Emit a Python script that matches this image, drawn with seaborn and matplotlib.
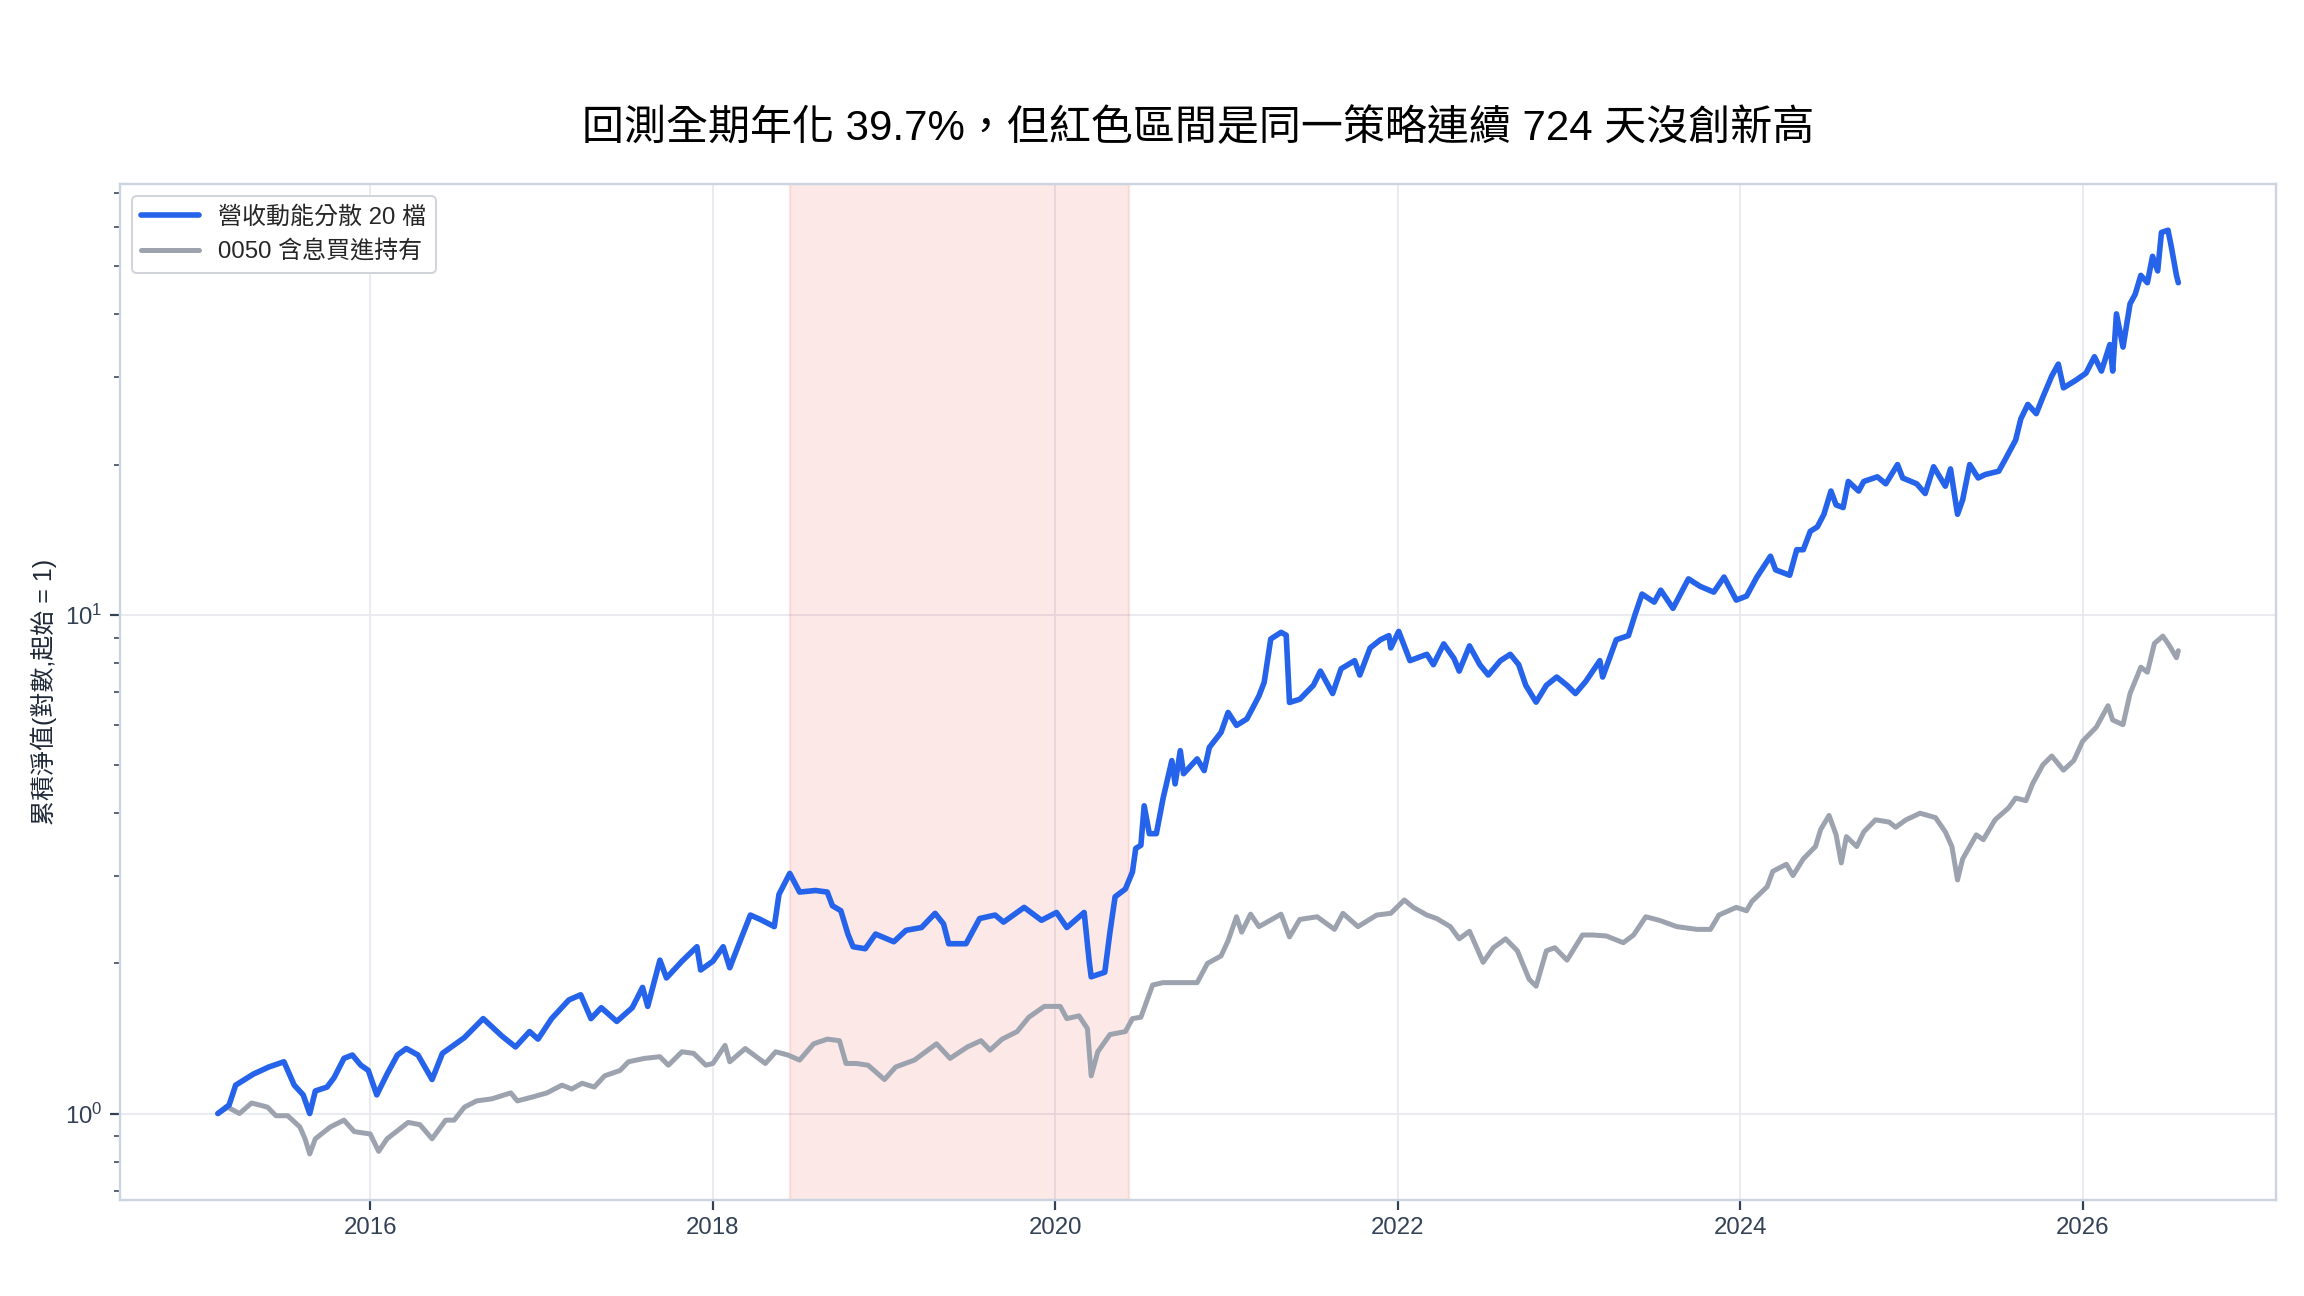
import matplotlib
matplotlib.use("Agg")
import matplotlib.pyplot as plt
import matplotlib.dates as mdates
import pandas as pd
import seaborn as sns

TITLE = "回測全期年化 39.7%，但紅色區間是同一策略連續 724 天沒創新高"
Y_LABEL = "累積淨值(對數,起始 = 1)"
STRATEGY_LABEL = "營收動能分散 20 檔"
BENCH_LABEL = "0050 含息買進持有"

# underwater stretch (longest drawdown of the strategy)
DD_START = "2018-06-14"
DD_END = "2020-06-07"

# strategy equity curve
strategy_dates = [
    "2015-02-10", "2015-03-06", "2015-03-20", "2015-04-27", "2015-05-30", "2015-07-01",
    "2015-07-23", "2015-08-11", "2015-08-25", "2015-09-06", "2015-10-01", "2015-10-16",
    "2015-11-06", "2015-11-24", "2015-12-12", "2015-12-28", "2016-01-15", "2016-02-06",
    "2016-02-28", "2016-03-18", "2016-04-12", "2016-05-12", "2016-06-03", "2016-07-20",
    "2016-08-29", "2016-10-08", "2016-11-06", "2016-12-06", "2016-12-24", "2017-01-22",
    "2017-02-28", "2017-03-25", "2017-04-16", "2017-05-08", "2017-06-10", "2017-07-13",
    "2017-08-04", "2017-08-15", "2017-09-10", "2017-09-24", "2017-10-27", "2017-11-28",
    "2017-12-06", "2018-01-01", "2018-01-23", "2018-02-06", "2018-02-25", "2018-03-22",
    "2018-04-12", "2018-05-12", "2018-05-22", "2018-06-14", "2018-07-05", "2018-08-08",
    "2018-09-02", "2018-09-13", "2018-10-01", "2018-10-16", "2018-10-27", "2018-11-22",
    "2018-12-14", "2019-01-22", "2019-02-17", "2019-03-22", "2019-04-20", "2019-05-08",
    "2019-05-19", "2019-06-25", "2019-07-24", "2019-08-26", "2019-09-13", "2019-10-27",
    "2019-12-03", "2020-01-04", "2020-01-26", "2020-03-03", "2020-03-14", "2020-03-18",
    "2020-04-16", "2020-04-27", "2020-05-08", "2020-05-30", "2020-06-14", "2020-06-21",
    "2020-07-02", "2020-07-09", "2020-07-20", "2020-08-04", "2020-08-18", "2020-09-06",
    "2020-09-13", "2020-09-24", "2020-10-01", "2020-10-30", "2020-11-14", "2020-11-25",
    "2020-12-20", "2021-01-04", "2021-01-22", "2021-02-13", "2021-02-28", "2021-03-11",
    "2021-03-22", "2021-04-05", "2021-04-27", "2021-05-08", "2021-05-15", "2021-06-06",
    "2021-07-05", "2021-07-20", "2021-08-15", "2021-09-02", "2021-10-01", "2021-10-12",
    "2021-11-03", "2021-11-25", "2021-12-13", "2021-12-17", "2022-01-03", "2022-01-27",
    "2022-03-04", "2022-03-18", "2022-04-09", "2022-05-01", "2022-05-12", "2022-06-03",
    "2022-06-25", "2022-07-13", "2022-08-08", "2022-08-29", "2022-09-16", "2022-10-01",
    "2022-10-23", "2022-11-14", "2022-12-06", "2022-12-28", "2023-01-15", "2023-02-06",
    "2023-03-08", "2023-03-14", "2023-04-12", "2023-05-08", "2023-05-22", "2023-06-06",
    "2023-07-02", "2023-07-16", "2023-08-11", "2023-09-13", "2023-10-08", "2023-11-06",
    "2023-11-28", "2023-12-24", "2024-01-15", "2024-02-06", "2024-03-06", "2024-03-17",
    "2024-04-16", "2024-05-01", "2024-05-15", "2024-05-30", "2024-06-14", "2024-06-28",
    "2024-07-13", "2024-07-24", "2024-08-08", "2024-08-19", "2024-09-10", "2024-09-21",
    "2024-10-20", "2024-11-07", "2024-12-02", "2024-12-13", "2025-01-12", "2025-01-30",
    "2025-02-17", "2025-03-14", "2025-03-25", "2025-04-09", "2025-04-20", "2025-05-05",
    "2025-05-23", "2025-06-07", "2025-07-06", "2025-07-20", "2025-08-11", "2025-08-22",
    "2025-09-06", "2025-09-24", "2025-10-08", "2025-10-27", "2025-11-10", "2025-11-21",
    "2025-12-17", "2026-01-08", "2026-01-26", "2026-02-10", "2026-02-28", "2026-03-06",
    "2026-03-14", "2026-03-28", "2026-04-12", "2026-04-23", "2026-05-05", "2026-05-19",
    "2026-05-30", "2026-06-10", "2026-06-18", "2026-07-02", "2026-07-09", "2026-07-20",
    "2026-07-24",
]
strategy_nav = [
    1.00, 1.04, 1.14, 1.20, 1.24, 1.27,
    1.14, 1.09, 1.00, 1.11, 1.13, 1.18,
    1.29, 1.31, 1.25, 1.22, 1.09, 1.20,
    1.31, 1.35, 1.31, 1.17, 1.32, 1.42,
    1.55, 1.43, 1.36, 1.46, 1.41, 1.55,
    1.69, 1.73, 1.55, 1.63, 1.53, 1.63,
    1.79, 1.64, 2.03, 1.87, 2.02, 2.16,
    1.94, 2.02, 2.16, 1.96, 2.18, 2.50,
    2.45, 2.37, 2.75, 3.03, 2.78, 2.80,
    2.78, 2.61, 2.55, 2.29, 2.16, 2.14,
    2.29, 2.21, 2.33, 2.36, 2.52, 2.40,
    2.19, 2.19, 2.46, 2.50, 2.42, 2.59,
    2.44, 2.53, 2.36, 2.53, 2.01, 1.88,
    1.92, 2.31, 2.72, 2.82, 3.05, 3.40,
    3.45, 4.14, 3.64, 3.64, 4.27, 5.10,
    4.58, 5.34, 4.80, 5.14, 4.87, 5.42,
    5.81, 6.37, 6.00, 6.18, 6.57, 6.88,
    7.32, 8.94, 9.22, 9.10, 6.67, 6.77,
    7.22, 7.71, 6.95, 7.79, 8.09, 7.57,
    8.58, 8.91, 9.08, 8.58, 9.26, 8.09,
    8.33, 7.94, 8.74, 8.17, 7.71, 8.66,
    7.94, 7.57, 8.09, 8.33, 7.94, 7.22,
    6.68, 7.22, 7.50, 7.22, 6.95, 7.35,
    8.09, 7.50, 8.91, 9.08, 10.0, 11.0,
    10.6, 11.2, 10.3, 11.8, 11.4, 11.1,
    11.9, 10.7, 10.9, 11.9, 13.1, 12.3,
    12.0, 13.5, 13.5, 14.7, 15.0, 15.9,
    17.7, 16.6, 16.4, 18.5, 17.7, 18.5,
    18.9, 18.3, 20.0, 18.8, 18.3, 17.5,
    19.8, 18.1, 19.6, 15.9, 17.0, 20.0,
    18.8, 19.1, 19.4, 20.5, 22.4, 24.7,
    26.4, 25.3, 27.3, 30.1, 31.8, 28.5,
    29.5, 30.5, 32.9, 30.8, 34.8, 30.8,
    40.1, 34.4, 42.0, 43.9, 47.9, 46.3,
    52.3, 48.9, 58.4, 59.0, 54.7, 47.9,
    46.3,
]

# 0050 total-return buy & hold
bench_dates = [
    "2015-02-10", "2015-03-03", "2015-03-28", "2015-04-23", "2015-05-27", "2015-06-14",
    "2015-07-09", "2015-08-04", "2015-08-15", "2015-08-25", "2015-09-06", "2015-10-08",
    "2015-11-06", "2015-11-28", "2016-01-01", "2016-01-19", "2016-02-06", "2016-03-03",
    "2016-03-22", "2016-04-16", "2016-05-12", "2016-06-10", "2016-06-28", "2016-07-20",
    "2016-08-15", "2016-09-16", "2016-10-27", "2016-11-10", "2016-12-13", "2017-01-12",
    "2017-02-13", "2017-03-06", "2017-03-28", "2017-04-23", "2017-05-15", "2017-06-17",
    "2017-07-05", "2017-08-08", "2017-09-10", "2017-09-28", "2017-10-27", "2017-11-21",
    "2017-12-17", "2018-01-01", "2018-01-27", "2018-02-06", "2018-03-11", "2018-04-23",
    "2018-05-15", "2018-06-10", "2018-07-05", "2018-08-04", "2018-09-02", "2018-09-28",
    "2018-10-12", "2018-11-03", "2018-11-28", "2019-01-02", "2019-01-26", "2019-03-07",
    "2019-04-23", "2019-05-22", "2019-06-28", "2019-07-27", "2019-08-15", "2019-09-10",
    "2019-10-12", "2019-11-06", "2019-12-09", "2020-01-12", "2020-01-26", "2020-02-21",
    "2020-03-10", "2020-03-18", "2020-04-01", "2020-04-27", "2020-05-30", "2020-06-14",
    "2020-07-02", "2020-07-27", "2020-08-18", "2020-10-08", "2020-10-30", "2020-11-21",
    "2020-12-20", "2021-01-04", "2021-01-22", "2021-02-02", "2021-02-21", "2021-03-11",
    "2021-04-27", "2021-05-15", "2021-06-06", "2021-07-13", "2021-08-19", "2021-09-06",
    "2021-10-08", "2021-11-17", "2021-12-17", "2022-01-15", "2022-02-03", "2022-03-04",
    "2022-03-25", "2022-04-23", "2022-05-12", "2022-06-03", "2022-07-02", "2022-07-24",
    "2022-08-19", "2022-09-13", "2022-10-08", "2022-10-23", "2022-11-14", "2022-12-02",
    "2022-12-28", "2023-01-30", "2023-02-21", "2023-03-22", "2023-04-27", "2023-05-19",
    "2023-06-14", "2023-07-13", "2023-08-19", "2023-10-01", "2023-10-30", "2023-11-17",
    "2023-12-24", "2024-01-15", "2024-01-26", "2024-02-28", "2024-03-11", "2024-04-09",
    "2024-04-23", "2024-05-15", "2024-06-10", "2024-06-21", "2024-07-09", "2024-07-24",
    "2024-08-04", "2024-08-15", "2024-09-06", "2024-09-21", "2024-10-16", "2024-11-14",
    "2024-11-28", "2024-12-20", "2025-01-19", "2025-02-21", "2025-03-14", "2025-03-28",
    "2025-04-09", "2025-04-20", "2025-05-19", "2025-06-03", "2025-06-28", "2025-07-27",
    "2025-08-11", "2025-09-02", "2025-09-16", "2025-10-08", "2025-10-27", "2025-11-21",
    "2025-12-13", "2026-01-01", "2026-01-30", "2026-02-24", "2026-03-06", "2026-03-28",
    "2026-04-12", "2026-05-05", "2026-05-19", "2026-06-03", "2026-06-21", "2026-07-05",
    "2026-07-20", "2026-07-24",
]
bench_nav = [
    1.00, 1.03, 1.00, 1.05, 1.03, 0.99,
    0.99, 0.94, 0.89, 0.83, 0.89, 0.94,
    0.97, 0.92, 0.91, 0.84, 0.89, 0.93,
    0.96, 0.95, 0.89, 0.97, 0.97, 1.03,
    1.06, 1.07, 1.10, 1.06, 1.08, 1.10,
    1.14, 1.12, 1.15, 1.13, 1.19, 1.22,
    1.27, 1.29, 1.30, 1.25, 1.33, 1.32,
    1.25, 1.26, 1.37, 1.27, 1.35, 1.26,
    1.33, 1.31, 1.28, 1.38, 1.41, 1.40,
    1.26, 1.26, 1.25, 1.17, 1.24, 1.28,
    1.38, 1.29, 1.36, 1.40, 1.34, 1.41,
    1.46, 1.56, 1.64, 1.64, 1.55, 1.57,
    1.48, 1.19, 1.33, 1.44, 1.46, 1.55,
    1.56, 1.81, 1.83, 1.83, 1.83, 2.00,
    2.07, 2.22, 2.48, 2.31, 2.51, 2.37,
    2.51, 2.26, 2.45, 2.48, 2.34, 2.52,
    2.37, 2.50, 2.52, 2.68, 2.59, 2.50,
    2.46, 2.37, 2.24, 2.32, 2.01, 2.15,
    2.24, 2.12, 1.86, 1.80, 2.12, 2.15,
    2.03, 2.28, 2.28, 2.27, 2.20, 2.28,
    2.48, 2.44, 2.37, 2.34, 2.34, 2.50,
    2.59, 2.55, 2.66, 2.85, 3.06, 3.16,
    3.00, 3.24, 3.43, 3.71, 3.96, 3.62,
    3.18, 3.59, 3.43, 3.67, 3.88, 3.84,
    3.75, 3.88, 4.00, 3.92, 3.67, 3.43,
    2.94, 3.24, 3.62, 3.54, 3.88, 4.10,
    4.29, 4.24, 4.58, 5.00, 5.21, 4.88,
    5.10, 5.58, 5.95, 6.57, 6.15, 6.02,
    6.95, 7.85, 7.67, 8.76, 9.06, 8.67,
    8.20, 8.47,
]

BLUE = "#2563eb"
GREY = "#9ca3af"
SHADE = "#ef4444"
SPINE = "#cbd5e1"
TEXT = "#334155"

sns.set_theme(style="whitegrid")
# latin glyphs from Liberation Sans, CJK falls through to Noto
plt.rcParams["font.family"] = ["Liberation Sans", "Noto Sans CJK TC", "DejaVu Sans"]
plt.rcParams["axes.unicode_minus"] = False

strategy = pd.DataFrame({"date": pd.to_datetime(strategy_dates), "nav": strategy_nav})
bench = pd.DataFrame({"date": pd.to_datetime(bench_dates), "nav": bench_nav})

fig, ax = plt.subplots(figsize=(16, 9), dpi=144)
fig.subplots_adjust(left=0.052, right=0.988, bottom=0.074, top=0.858)

ax.axvspan(pd.Timestamp(DD_START), pd.Timestamp(DD_END), color=SHADE, alpha=0.12, lw=1.2, zorder=1)

sns.lineplot(data=strategy, x="date", y="nav", ax=ax, color=BLUE, lw=2.8,
             label=STRATEGY_LABEL, zorder=3)
sns.lineplot(data=bench, x="date", y="nav", ax=ax, color=GREY, lw=2.5,
             label=BENCH_LABEL, zorder=2)

ax.set_yscale("log")
ax.xaxis.set_major_locator(mdates.YearLocator(2))
ax.xaxis.set_major_formatter(mdates.DateFormatter("%Y"))

ax.set_title(TITLE, fontsize=21, color="black", pad=22)
ax.set_ylabel(Y_LABEL, fontsize=12.5, color="#1f2937")
ax.set_xlabel("")

ax.grid(True, which="major", color="#e7e9ef", lw=0.9)
ax.grid(False, which="minor")
for side in ax.spines.values():
    side.set_color(SPINE)
    side.set_linewidth(1.2)

ax.tick_params(axis="both", which="major", labelsize=12, labelcolor=TEXT,
               color=TEXT, length=5, width=1.1, direction="out",
               bottom=True, left=True)
ax.tick_params(axis="y", which="minor", color=TEXT, length=3, width=0.8, left=True)

leg = ax.legend(loc="upper left", fontsize=12, frameon=True, fancybox=True,
                handlelength=2.4)
leg.get_frame().set_edgecolor("#d1d5db")
leg.get_frame().set_facecolor("white")
leg.get_frame().set_alpha(1.0)

fig.savefig("out.png", dpi=144)
